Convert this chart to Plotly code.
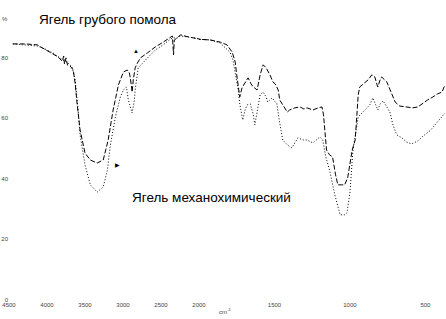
import plotly.graph_objects as go

# Wavenumbers (cm-1) and transmittance (%T)
coarse_wn = [4450, 4290, 4130, 3960, 3855, 3800, 3780, 3770, 3750, 3730, 3695, 3655, 3630, 3605,
             3565, 3500, 3430, 3340, 3260, 3195, 3130, 3060, 2995, 2945, 2915, 2890, 2880,
             2865, 2840, 2810, 2770, 2680, 2575, 2470, 2375, 2350, 2335, 2325, 2285, 2245,
             2140, 2020, 1925, 1860, 1815, 1780, 1760, 1750, 1740, 1730, 1715, 1695, 1675,
             1655, 1640, 1615, 1595, 1575, 1555, 1530, 1510, 1495, 1475, 1465, 1435, 1415,
             1400, 1365, 1330, 1305, 1285, 1245, 1210, 1185, 1175, 1155, 1135, 1115, 1095,
             1080, 1055, 1035, 1015, 985, 965, 945, 935, 900, 880, 855, 835, 820, 815, 800,
             790, 755, 730, 700, 670, 635, 585, 550, 515, 485, 450, 420, 390, 370]
coarse_t = [84.5, 84.5, 84.2, 81.8, 80.2, 78.8, 80.5, 77.9, 79.9, 77.5, 77.2, 75.9, 71.6, 65.0,
            56.1, 48.5, 46.2, 45.2, 46.2, 52.8, 62.7, 71.0, 75.2, 75.9, 74.9, 70.9, 68.6,
            72.6, 76.6, 78.2, 79.9, 81.5, 83.5, 85.1, 86.8, 87.1, 80.9, 85.8, 86.5, 87.5,
            86.8, 86.1, 85.8, 85.1, 84.2, 81.8, 78.5, 74.3, 70.0, 67.0, 70.0, 71.6, 73.3,
            71.3, 70.3, 69.3, 74.3, 77.6, 76.6, 74.3, 71.9, 71.3, 69.3, 66.0, 63.4, 62.0,
            62.7, 63.4, 63.7, 63.0, 63.4, 62.7, 63.4, 63.7, 61.1, 49.5, 47.9, 47.2, 41.3,
            38.0, 38.0, 38.0, 40.3, 49.5, 52.8, 67.7, 70.3, 71.6, 72.6, 74.3, 73.6, 71.0, 70.3, 72.6,
            73.6, 71.9, 68.6, 65.3, 64.0, 63.7, 63.4, 63.7, 65.0, 66.0, 67.0, 68.0, 68.6, 71.0]

mech_wn = [4450, 4290, 4130, 4025, 3920, 3790, 3735, 3670, 3630, 3590, 3565, 3500, 3430, 3340,
           3260, 3205, 3170, 3100, 3035, 2995, 2955, 2930, 2905, 2880, 2850, 2840, 2800,
           2735, 2665, 2575, 2470, 2375, 2335, 2285, 2245, 2140, 2020, 1925, 1860, 1795,
           1775, 1760, 1740, 1730, 1710, 1695, 1680, 1660, 1640, 1630, 1610, 1595, 1575,
           1555, 1545, 1515, 1495, 1485, 1465, 1445, 1415, 1385, 1365, 1345, 1310, 1285,
           1245, 1220, 1200, 1180, 1160, 1135, 1100, 1065, 1035, 1020, 1000, 980, 965, 945,
           915, 868, 848, 828, 815, 800, 780, 735, 715, 690, 655, 625, 590, 550, 515, 470,
           425, 405, 370]
mech_t = [84.5, 84.2, 83.8, 82.8, 81.5, 79.2, 78.5, 76.9, 72.6, 62.7, 54.5, 44.6, 38.0, 35.6,
          37.3, 42.9, 50.5, 60.4, 67.0, 69.3, 70.3, 66.0, 63.4, 61.7, 66.0, 69.3, 76.6,
          78.5, 80.2, 82.5, 84.2, 86.1, 86.5, 86.5, 87.1, 86.8, 86.1, 85.8, 84.8, 81.8,
          79.2, 75.2, 69.3, 64.7, 59.4, 62.7, 64.4, 64.7, 61.1, 57.8, 63.4, 67.7, 68.6,
          67.0, 65.3, 66.7, 65.3, 65.0, 58.4, 52.8, 51.2, 50.2, 51.8, 53.5, 52.8, 52.8,
          51.8, 53.1, 53.8, 52.8, 47.2, 42.9, 34.7, 28.1, 28.1, 28.7, 35.3, 49.5, 54.5, 60.4,
          62.0, 64.4, 66.7, 64.4, 62.7, 64.7, 65.7, 62.0, 57.8, 54.5, 53.5, 52.1, 51.5, 52.5, 54.1, 55.8,
          58.4, 59.4, 61.7]

ticks_left = [4500, 4000, 3500, 3000, 2500, 2000]
ticks_right = [1500, 1000, 500]
y_ticks = [0, 20, 40, 60, 80]

label_coarse = "Ягель грубого помола"
label_mech = "Ягель механохимический"

W, H = 446, 319
L, R, T, B = 9, 1, 3, 19
split = (199 - 9) / 436.0

fig = go.Figure()

def add_series(wn, t, dash):
    left = [(w, v) for w, v in zip(wn, t) if w >= 1900]
    right = [(w, v) for w, v in zip(wn, t) if w <= 2050]
    fig.add_trace(go.Scatter(x=[p[0] for p in left], y=[p[1] for p in left], mode="lines",
                             line=dict(color="black", width=1, dash=dash),
                             xaxis="x", yaxis="y", showlegend=False))
    fig.add_trace(go.Scatter(x=[p[0] for p in right], y=[p[1] for p in right], mode="lines",
                             line=dict(color="black", width=1, dash=dash),
                             xaxis="x2", yaxis="y", showlegend=False))

add_series(coarse_wn, coarse_t, "5px,2px")
add_series(mech_wn, mech_t, "1px,2px")

tickfont = dict(family="Liberation Sans, Arial, sans-serif", size=6, color="#444")
axis_common = dict(showgrid=False, zeroline=False, showline=False, ticks="",
                   tickfont=tickfont, automargin=False, fixedrange=True)

fig.update_layout(
    width=W, height=H,
    margin=dict(l=L, r=R, t=T, b=B, pad=0),
    paper_bgcolor="white", plot_bgcolor="white",
    xaxis=dict(domain=[0, split], range=[4500, 2000], tickvals=ticks_left,
               ticktext=[str(v) for v in ticks_left], **axis_common),
    xaxis2=dict(domain=[split, 1], range=[2000, 370], tickvals=ticks_right,
                ticktext=[str(v) for v in ticks_right], anchor="y", **axis_common),
    yaxis=dict(range=[0, 98], tickvals=y_ticks, ticktext=[str(v) for v in y_ticks],
               **axis_common),
    font=dict(family="Liberation Sans, Arial, sans-serif", color="black"),
)

ann_font = dict(family="Liberation Sans, Arial, sans-serif", size=13.5, color="black")
fig.add_annotation(x=4130, y=92.4, xref="x", yref="y", text=label_coarse, showarrow=False,
                   xanchor="left", yanchor="middle", font=ann_font)
fig.add_annotation(x=2905, y=33.7, xref="x", yref="y", text=label_mech, showarrow=False,
                   xanchor="left", yanchor="middle", font=ann_font)
fig.add_annotation(x=2825, y=82.2, xref="x", yref="y", text="▲", showarrow=False,
                   font=dict(size=6, color="black"))
fig.add_annotation(x=3075, y=44.6, xref="x", yref="y", text="▶", showarrow=False,
                   font=dict(size=6, color="black"))
fig.add_annotation(x=(225 - 9) / 436.0, y=(300 - 311) / 297.0, xref="paper", yref="paper",
                   text="cm<sup>-1</sup>", showarrow=False, xanchor="center", yanchor="middle",
                   font=dict(family="Liberation Sans, Arial, sans-serif", size=6, color="#444"))
fig.add_annotation(x=(5 - 9) / 436.0, y=(300 - 19) / 297.0, xref="paper", yref="paper",
                   text="%", showarrow=False, xanchor="center", yanchor="middle",
                   font=dict(family="Liberation Sans, Arial, sans-serif", size=6, color="#444"))

fig.write_html("out.html", config={"displayModeBar": False, "staticPlot": True},
               post_script="document.body.style.margin='0';document.body.style.overflow='hidden';")
